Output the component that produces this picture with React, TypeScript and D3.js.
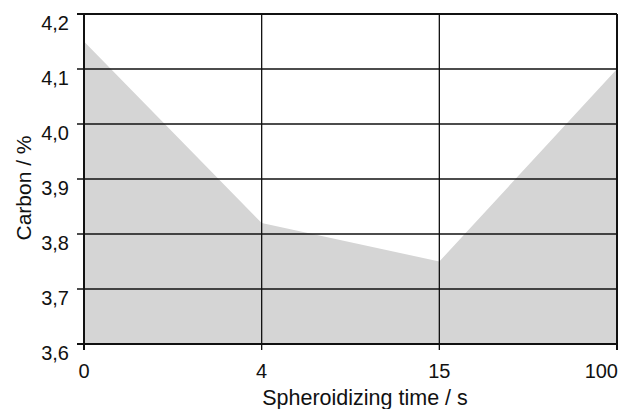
import * as d3 from 'd3'
import React from 'react'

const times = ['0', '4', '15', '100']
const carbon = [4.15, 3.82, 3.75, 4.1]
const yTicks = [3.6, 3.7, 3.8, 3.9, 4.0, 4.1, 4.2]

const W = 621
const H = 409
const left = 84
const right = 617
const top = 14
const bottom = 344

export default function App() {
  const x = d3.scalePoint<string>().domain(times).range([left, right])
  const y = d3.scaleLinear().domain([3.6, 4.2]).range([bottom, top])

  const pts = times.map((t, i) => ({ t, v: carbon[i] }))
  const area = d3
    .area<{ t: string; v: number }>()
    .x((d) => x(d.t) ?? 0)
    .y0(y(3.6))
    .y1((d) => y(d.v))

  const fmt = (v: number) => v.toFixed(1).replace('.', ',')
  const font = 'Liberation Sans, Arial, sans-serif'

  return (
    <svg
      width={W}
      height={H}
      style={{ position: 'absolute', left: 0, top: 0, background: '#fff' }}
      fontFamily={font}
    >
      <path d={area(pts) ?? ''} fill="#d5d5d5" />

      {yTicks.map((v) => (
        <g key={v}>
          <line x1={left - 7} x2={right} y1={y(v)} y2={y(v)} stroke="#111" strokeWidth={v === 3.6 || v === 4.2 ? 2 : 1.3} />
          <text x={left - 15} y={y(v) + 16} textAnchor="end" fontSize={20} fill="#111">
            {fmt(v)}
          </text>
        </g>
      ))}

      {times.map((t, i) => (
        <g key={t}>
          <line
            x1={x(t)}
            x2={x(t)}
            y1={top}
            y2={bottom + 6}
            stroke="#111"
            strokeWidth={i === 0 || i === times.length - 1 ? 2 : 1.3}
          />
          <text
            x={i === times.length - 1 ? right + 1 : x(t)}
            y={bottom + 34}
            textAnchor={i === times.length - 1 ? 'end' : 'middle'}
            fontSize={20}
            fill="#111"
          >
            {t}
          </text>
        </g>
      ))}

      <text
        transform={`translate(31,188) rotate(-90)`}
        textAnchor="middle"
        fontSize={21}
        fill="#111"
      >
        Carbon / %
      </text>
      <text x={365} y={405} textAnchor="middle" fontSize={21.5} fill="#111">
        Spheroidizing time / s
      </text>
    </svg>
  )
}
